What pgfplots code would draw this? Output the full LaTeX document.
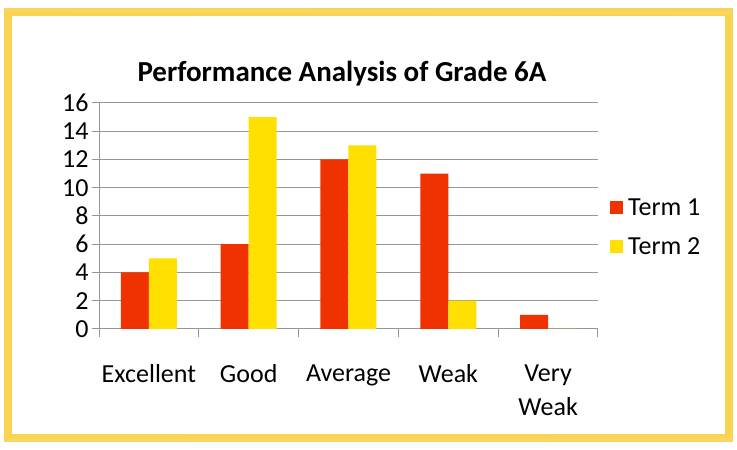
\documentclass[border=0pt]{standalone}
\usepackage{pgfplots}
\pgfplotsset{compat=1.18}
\usepackage{fontspec}
\setmainfont{Carlito}
\definecolor{tred}{RGB}{240,50,0}
\definecolor{tyel}{RGB}{255,224,0}
\definecolor{crayon}{RGB}{249,204,52}
\definecolor{gridc}{RGB}{150,150,150}
\begin{document}
\begin{tikzpicture}[x=1pt,y=1pt]
\useasboundingbox (0,0) rectangle (737,450);
\fill[white] (0,0) rectangle (737,450);
\draw[crayon, line width=8pt, opacity=0.85] (8,12) rectangle (729,438);
\draw[crayon!70!white, line width=3pt, opacity=0.6] (6,10) -- (731,11) (5,440) -- (731,437);
\node[font=\fontsize{29}{33}\selectfont\bfseries] at (342,376) {Performance Analysis of Grade 6A};
\begin{axis}[
  at={(99pt,121pt)}, anchor=south west,
  scale only axis, width=499pt, height=226pt,
  ybar=0pt, bar width=28pt,
  xmin=-0.5, xmax=4.5, ymin=0, ymax=16,
  ytick={0,2,...,16},
  xtick={0,1,2,3,4},
  xticklabels={Excellent,Good,Average,Weak,{Very\\Weak}},
  xticklabel style={align=center, anchor=north, yshift=-25pt, font=\fontsize{26}{34}\selectfont},
  yticklabel style={font=\fontsize{26}{30}\selectfont},
  /pgf/number format/assume math mode=true,
  major x tick style={draw=none},
  minor xtick={-0.5,0.5,...,4.5},
  minor x tick style={draw=gridc, line width=1pt},
  minor tick length=8pt,
  major tick length=7pt,
  tick align=outside,
  tick pos=lower,
  ytick style={draw=gridc, line width=1pt},
  ymajorgrids, grid style={gridc, line width=1pt},
  axis x line*=bottom, axis y line*=left,
  axis line style={gridc, line width=1pt},
  legend style={draw=none, fill=none, at={(1.018,0.45)}, anchor=west,
    font=\fontsize{26}{30}\selectfont, row sep=17pt,
    nodes={inner xsep=5pt}},
  legend cell align=left,
  legend image code/.code={\fill[#1] (0pt,-6.5pt) rectangle (13pt,6.5pt);},
]
\addplot[fill=tred, draw=none] coordinates {(0,4) (1,6) (2,12) (3,11) (4,1)};
\addplot[fill=tyel, draw=none] coordinates {(0,5) (1,15) (2,13) (3,2) (4,0)};
\legend{Term 1, Term 2}
\end{axis}
\end{tikzpicture}
\end{document}
